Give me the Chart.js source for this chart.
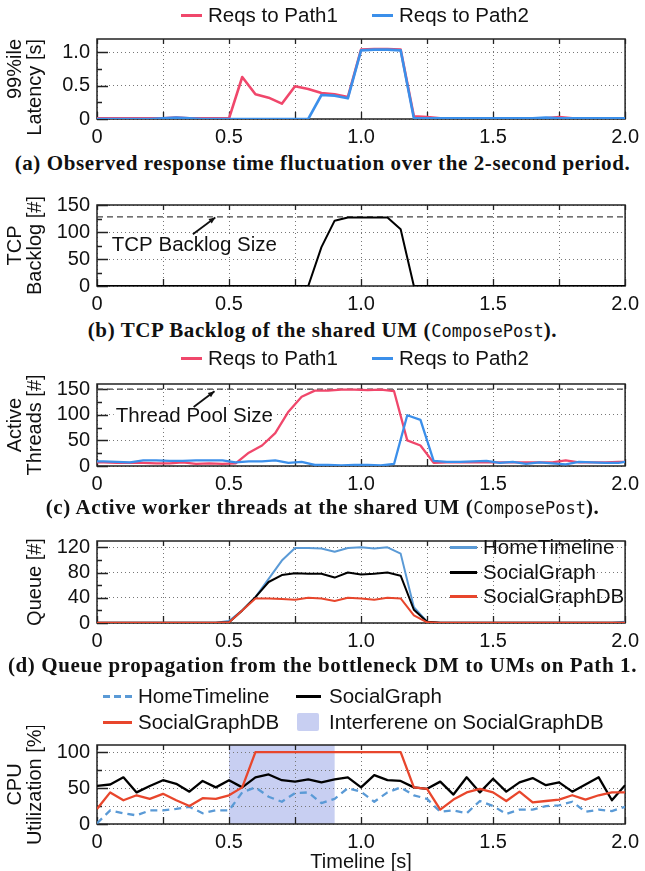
<!DOCTYPE html>
<html>
<head>
<meta charset="utf-8">
<script src="https://cdn.jsdelivr.net/npm/chart.js@4.4.1/dist/chart.umd.min.js"></script>
<style>
  html, body { margin: 0; padding: 0; background: #fff; }
  #page { position: relative; width: 645px; height: 871px; overflow: hidden; background: #fff;
          font-family: "Liberation Sans", Arial, sans-serif; color: #111; }
  canvas { position: absolute; left: 0; }
  .cap { position: absolute; left: 0; width: 645px; text-align: center; white-space: nowrap;
         font-family: "Liberation Serif", serif; font-weight: bold; font-size: 21px; line-height: 24px;
         letter-spacing: 0.6px; }
  .cap code { font-family: "DejaVu Sans Mono", monospace; font-weight: normal; font-size: 17px; letter-spacing: 0; }
  .swatch { position: absolute; }
  .legtext { position: absolute; font-size: 20.5px; line-height: 22px; white-space: nowrap; }
</style>
</head>
<body>
<div id="page">
  <canvas id="chartA" width="645" height="129" style="top:20px"></canvas>
  <div class="cap" style="top:151px">(a) Observed response time fluctuation over the 2-second period.</div>

  <canvas id="chartB" width="645" height="130" style="top:186px"></canvas>
  <div class="cap" style="top:318px">(b) TCP Backlog of the shared UM (<code>ComposePost</code>).</div>

  <canvas id="chartC" width="645" height="131" style="top:365px"></canvas>
  <div class="cap" style="top:495px">(c) Active worker threads at the shared UM (<code>ComposePost</code>).</div>

  <canvas id="chartD" width="645" height="131" style="top:522px"></canvas>
  <div class="cap" style="top:653px">(d) Queue propagation from the bottleneck DM to UMs on Path 1.</div>

  <canvas id="chartE" width="645" height="145" style="top:726px"></canvas>
</div>
<script>
// time axis (s), 50 ms samples
const times = [0, 0.05, 0.1, 0.15, 0.2, 0.25, 0.3, 0.35, 0.4, 0.45, 0.5, 0.55, 0.6, 0.65, 0.7, 0.75, 0.8, 0.85, 0.9, 0.95,
  1.0, 1.05, 1.1, 1.15, 1.2, 1.25, 1.3, 1.35, 1.4, 1.45, 1.5, 1.55, 1.6, 1.65, 1.7, 1.75, 1.8, 1.85, 1.9, 1.95, 2.0]

// (a) 99th percentile latency [s]
const latencyPath1 = [0.01, 0.01, 0.01, 0.01, 0.01, 0.01, 0.02, 0.01, 0.01, 0.01, 0.01, 0.63, 0.37, 0.32, 0.23, 0.49, 0.45, 0.39, 0.37, 0.33,
  1.04, 1.05, 1.05, 1.04, 0.04, 0.03, 0.01, 0.01, 0.01, 0.01, 0.01, 0.01, 0.01, 0.01, 0.01, 0.03, 0.01, 0.01, 0.01, 0.01, 0.01]
const latencyPath2 = [0, 0, 0, 0, 0, 0.01, 0.02, 0.01, 0, 0, 0, 0, 0, 0, 0, 0, 0, 0.36, 0.35, 0.31,
  1.03, 1.04, 1.04, 1.03, 0.01, 0.01, 0.01, 0.01, 0.01, 0.01, 0.01, 0.01, 0.01, 0.01, 0.02, 0.01, 0.01, 0.01, 0.01, 0.01, 0.01]

// (b) TCP backlog [#]
const backlog = [0, 0, 0, 0, 0, 0, 0, 0, 0, 0, 0, 0, 0, 0, 0, 0, 0, 72, 121, 127,
  127, 127, 127, 105, 0, 0, 0, 0, 0, 0, 0, 0, 0, 0, 0, 0, 0, 0, 0, 0, 0]
const BACKLOG_SIZE = 128

// (c) active threads [#], sampled mid-interval
const threadTimes = [0, 0.025, 0.075, 0.125, 0.175, 0.225, 0.275, 0.325, 0.375, 0.425, 0.475, 0.525, 0.575, 0.625, 0.675, 0.725,
  0.775, 0.825, 0.875, 0.925, 0.975, 1.025, 1.075, 1.125, 1.175, 1.225, 1.275, 1.325, 1.375, 1.425, 1.475, 1.525,
  1.575, 1.625, 1.675, 1.725, 1.775, 1.825, 1.875, 1.925, 1.975, 2.0]
const threadsPath1 = [7, 7, 6, 6, 6, 5, 5, 7, 4, 5, 4, 5, 26, 40, 64, 106,
  135, 147, 147, 149, 149, 148, 149, 146, 50, 40, 6, 7, 7, 7, 7, 7,
  7, 7, 7, 7, 11, 7, 7, 7, 8, 8]
const threadsPath2 = [9, 9, 8, 7, 11, 11, 10, 10, 11, 11, 11, 7, 9, 9, 11, 6,
  8, 2, 2, 1, 2, 2, 1, 4, 99, 90, 10, 8, 8, 9, 10, 6,
  8, 4, 7, 5, 3, 8, 7, 6, 6, 8]
const THREAD_POOL_SIZE = 150

// (d) queue length [#]
const queueHome = [0.5, 0.5, 0.5, 0.5, 0.5, 0.5, 0.5, 0.5, 0.5, 0.5, 3, 20, 41, 70, 99, 119, 119, 118, 113, 119,
  120, 118, 120, 110, 25, 2, 0.5, 0.5, 0.5, 0.5, 0.5, 0.5, 0.5, 0.5, 0.5, 0.5, 0.5, 0.5, 0.5, 0.5, 2]
const queueGraph = [0.5, 0.5, 0.5, 0.5, 0.5, 0.5, 0.5, 0.5, 0.5, 0.5, 1, 20, 41, 65, 76, 79, 78, 78, 72, 80,
  77, 78, 80, 75, 21, 2, 0.5, 0.5, 0.5, 0.5, 0.5, 0.5, 0.5, 0.5, 0.5, 0.5, 0.5, 0.5, 0.5, 0.5, 0.5]
const queueDB = [0.5, 0.5, 0.5, 0.5, 0.5, 0.5, 0.5, 0.5, 0.5, 0.5, 1, 20, 39, 39, 38, 37, 40, 39, 35, 40,
  39, 37, 40, 39, 12, 1, 0.5, 0.5, 0.5, 0.5, 0.5, 0.5, 0.5, 0.5, 0.5, 0.5, 0.5, 0.5, 0.5, 0.5, 0.5]

// (e) CPU utilization [%]
const cpuHome = [1, 19, 15, 12, 19, 19, 21, 24, 15, 19, 19, 44, 51, 38, 31, 43, 44, 29, 35, 50,
  45, 31, 44, 51, 40, 35, 17, 19, 15, 32, 25, 14, 20, 20, 25, 26, 31, 17, 20, 18, 24]
const cpuGraph = [53, 55, 65, 44, 53, 61, 56, 45, 60, 51, 61, 51, 65, 69, 61, 59, 62, 58, 62, 65,
  51, 68, 61, 60, 51, 49, 59, 41, 65, 44, 63, 45, 58, 64, 54, 58, 45, 55, 65, 33, 54]
const cpuDB = [21, 44, 33, 40, 35, 42, 33, 25, 36, 35, 40, 51, 100, 100, 100, 100, 100, 100, 100, 100,
  100, 100, 100, 100, 51, 49, 20, 34, 44, 49, 44, 32, 45, 30, 32, 34, 40, 34, 40, 44, 44]
const INTERFERENCE = [0.5, 0.9]

// ticks
const timeTicks = [0, 0.25, 0.5, 0.75, 1.0, 1.25, 1.5, 1.75, 2.0]
const timeTickLabels = ['0', '', '0.5', '', '1.0', '', '1.5', '', '2.0']
const latencyTicks = [0, 0.25, 0.5, 0.75, 1.0]
const latencyTickLabels = ['0', '', '0.5', '', '1.0']
const countTicks = [0, 25, 50, 75, 100, 125, 150]
const countTickLabels = ['0', '', '50', '', '100', '', '150']
const queueTicks = [0, 20, 40, 60, 80, 100, 120]
const queueTickLabels = ['0', '', '40', '', '80', '', '120']
const cpuTicks = [0, 25, 50, 75, 100]
const cpuTickLabels = ['0', '', '50', '', '100']

const RED = '#f0476b'
const BLUE = '#3b8fea'
const HT_BLUE = '#5a9ad6'
const DB_RED = '#e8462c'
const INK = '#111'
const GRID = '#777'
const FAMILY = '"Liberation Sans", Arial, sans-serif'
const tickFont = { family: FAMILY, size: 20 }

const pts = (xs, ys) => xs.map((x, i) => ({ x, y: ys[i] }))

function series(label, xs, ys, color, extra = {}) {
  return { label, data: pts(xs, ys), borderColor: color, backgroundColor: color, borderWidth: 2.3, ...extra }
}

function refLine(label, value) {
  const ends = [timeTicks[0], timeTicks[timeTicks.length - 1]]
  return { label, data: pts(ends, [value, value]), borderColor: '#444', borderWidth: 1.3, borderDash: [6, 4], order: 9 }
}

// box around the plot + gnuplot-style inward tick marks
const framePlugin = {
  id: 'frame',
  beforeDatasetsDraw(chart) {
    const { ctx, chartArea: a, scales: { x, y } } = chart
    ctx.save()
    ctx.strokeStyle = '#222'
    ctx.lineWidth = 1.3
    ctx.beginPath()
    x.ticks.forEach((t) => {
      const px = Math.round(x.getPixelForValue(t.value)) + 0.5
      ctx.moveTo(px, a.bottom)
      ctx.lineTo(px, a.bottom - 7)
      ctx.moveTo(px, a.top)
      ctx.lineTo(px, a.top + 5)
    })
    y.ticks.forEach((t) => {
      const py = Math.round(y.getPixelForValue(t.value)) + 0.5
      ctx.moveTo(a.left, py)
      ctx.lineTo(a.left + (t.label ? 11 : 5), py)
    })
    ctx.stroke()
    ctx.lineWidth = 1.5
    ctx.strokeRect(a.left, a.top, a.right - a.left, a.bottom - a.top)
    ctx.restore()
  },
}

// text label with an arrow, placed in data coordinates
const notePlugin = {
  id: 'note',
  beforeDatasetsDraw(chart, args, o) {
    if (!o || !o.text) return
    const { ctx, scales: { x, y } } = chart
    ctx.save()
    ctx.font = `20.5px ${FAMILY}`
    const tx = x.getPixelForValue(o.at[0])
    const ty = y.getPixelForValue(o.at[1])
    const w = ctx.measureText(o.text).width
    ctx.fillStyle = '#fff'
    ctx.fillRect(tx - 2, ty - 11, w + 4, 22)
    ctx.fillStyle = INK
    ctx.textBaseline = 'middle'
    ctx.fillText(o.text, tx, ty)
    const x0 = x.getPixelForValue(o.from[0])
    const y0 = y.getPixelForValue(o.from[1])
    const x1 = x.getPixelForValue(o.to[0])
    const y1 = y.getPixelForValue(o.to[1])
    ctx.strokeStyle = INK
    ctx.lineWidth = 1.8
    ctx.beginPath()
    ctx.moveTo(x0, y0)
    ctx.lineTo(x1, y1)
    ctx.stroke()
    const ang = Math.atan2(y1 - y0, x1 - x0)
    ctx.beginPath()
    ctx.moveTo(x1, y1)
    ctx.lineTo(x1 - 7 * Math.cos(ang - 0.4), y1 - 7 * Math.sin(ang - 0.4))
    ctx.lineTo(x1 - 7 * Math.cos(ang + 0.4), y1 - 7 * Math.sin(ang + 0.4))
    ctx.closePath()
    ctx.fill()
    ctx.restore()
  },
}

// shaded time window
const bandPlugin = {
  id: 'band',
  beforeDraw(chart, args, o) {
    if (!o || !o.range) return
    const { ctx, chartArea: a, scales: { x } } = chart
    const l = x.getPixelForValue(o.range[0])
    const r = x.getPixelForValue(o.range[1])
    ctx.save()
    ctx.fillStyle = o.color
    ctx.fillRect(l, a.top, r - l, a.bottom - a.top)
    ctx.restore()
  },
}

function buildChart(id, cfg) {
  return new Chart(document.getElementById(id), {
    type: 'line',
    data: { datasets: cfg.datasets },
    options: {
      responsive: false,
      animation: false,
      layout: { padding: { top: 8, right: 13, bottom: 0, left: 0 } },
      elements: { point: { radius: 0 }, line: { tension: 0, borderJoinStyle: 'round' } },
      plugins: {
        legend: { display: false },
        tooltip: { enabled: false },
        note: cfg.note || {},
        band: cfg.band || {},
      },
      scales: {
        x: {
          type: 'linear',
          min: timeTicks[0],
          max: timeTicks[timeTicks.length - 1],
          afterBuildTicks: (s) => { s.ticks = timeTicks.map((value) => ({ value })) },
          afterFit: (s) => { s.height = cfg.xHeight || 30 },
          ticks: { autoSkip: false, maxRotation: 0, padding: 6, color: INK, font: tickFont,
            callback: (v, i) => timeTickLabels[i] },
          grid: { drawTicks: false, lineWidth: 1, color: GRID },
          border: { display: false, dash: [1, 3] },
          title: cfg.xTitle
            ? { display: true, text: cfg.xTitle, color: INK, font: { ...tickFont, lineHeight: '18px' }, padding: 0 }
            : { display: false },
        },
        y: {
          type: 'linear',
          min: 0,
          max: cfg.yMax,
          afterBuildTicks: (s) => { s.ticks = cfg.yTicks.map((value) => ({ value })) },
          afterFit: (s) => { s.width = 97 },
          ticks: { autoSkip: false, padding: 7, color: INK, font: tickFont,
            callback: (v, i) => cfg.yLabels[i] },
          grid: { drawTicks: false, lineWidth: 1,
            color: (c) => (cfg.yMinorGrid || cfg.yLabels[c.index]) ? GRID : 'rgba(0,0,0,0)' },
          border: { display: false, dash: [1, 3] },
          title: { display: true, text: cfg.yTitle, align: cfg.yTitleAlign || 'center', color: INK,
            font: { ...tickFont, lineHeight: '20px' }, padding: { top: cfg.yTitlePad ?? 5, bottom: 0 } },
        },
      },
    },
    plugins: [bandPlugin, framePlugin, notePlugin],
  })
}

// legend drawn as page text next to line swatches
function legend(entries) {
  const page = document.getElementById('page')
  entries.forEach((e) => {
    const s = document.createElement('div')
    s.className = 'swatch'
    s.style.left = e.x + 'px'
    s.style.width = e.w + 'px'
    if (e.box) {
      s.style.top = (e.y - 9) + 'px'
      s.style.height = '18px'
      s.style.borderRadius = '2px'
      s.style.background = e.color
    } else {
      s.style.top = (e.y - 1.5) + 'px'
      s.style.height = '3px'
      s.style.background = e.dash
        ? `repeating-linear-gradient(90deg, ${e.color} 0 7px, transparent 7px 11px)`
        : e.color
    }
    page.appendChild(s)
    const t = document.createElement('div')
    t.className = 'legtext'
    t.style.left = e.tx + 'px'
    t.style.top = (e.y - 11) + 'px'
    t.textContent = e.label
    page.appendChild(t)
  })
}

// (a)
const latP1 = series('Reqs to Path1', times, latencyPath1, RED, { order: 2, borderWidth: 2.6 })
const latP2 = series('Reqs to Path2', times, latencyPath2, BLUE, { order: 1, borderWidth: 2.6 })
buildChart('chartA', {
  datasets: [latP1, latP2],
  yMax: 1.2, yTicks: latencyTicks, yLabels: latencyTickLabels,
  yTitle: ['99%ile', 'Latency [s]'], yTitleAlign: 'end',
})

// (b)
buildChart('chartB', {
  datasets: [series('TCP Backlog', times, backlog, '#000', { borderWidth: 2 }), refLine('TCP Backlog Size', BACKLOG_SIZE)],
  yMax: 150, yTicks: countTicks, yLabels: countTickLabels,
  yTitle: ['TCP', 'Backlog [#]'],
  note: { text: 'TCP Backlog Size', at: [0.056, 76], from: [0.363, 96], to: [0.448, 127] },
})

// (c)
const thP1 = series('Reqs to Path1', threadTimes, threadsPath1, RED, { order: 2 })
const thP2 = series('Reqs to Path2', threadTimes, threadsPath2, BLUE, { order: 1 })
buildChart('chartC', {
  datasets: [thP1, thP2, refLine('Thread Pool Size', THREAD_POOL_SIZE)],
  yMax: 160, yTicks: countTicks, yLabels: countTickLabels,
  yTitle: ['Active', 'Threads [#]'],
  note: { text: 'Thread Pool Size', at: [0.071, 96], from: [0.366, 115], to: [0.445, 146] },
})

// (d)
const qHome = series('HomeTimeline', times, queueHome, HT_BLUE, { order: 3, borderWidth: 2 })
const qGraph = series('SocialGraph', times, queueGraph, '#000', { order: 2, borderWidth: 2 })
const qDB = series('SocialGraphDB', times, queueDB, DB_RED, { order: 1, borderWidth: 2 })
buildChart('chartD', {
  datasets: [qHome, qGraph, qDB],
  yMax: 130, yTicks: queueTicks, yLabels: queueTickLabels,
  yTitle: 'Queue [#]', yTitlePad: 25,
})

// (e)
const cHome = series('HomeTimeline', times, cpuHome, HT_BLUE, { order: 3, borderDash: [7, 5] })
const cGraph = series('SocialGraph', times, cpuGraph, '#000', { order: 2 })
const cDB = series('SocialGraphDB', times, cpuDB, DB_RED, { order: 1 })
const BAND_COLOR = '#c8cff2'
buildChart('chartE', {
  datasets: [cHome, cGraph, cDB],
  yMax: 110, yTicks: cpuTicks, yLabels: cpuTickLabels, yMinorGrid: true,
  yTitle: ['CPU', 'Utilization [%]'],
  xTitle: 'Timeline [s]', xHeight: 47,
  band: { range: INTERFERENCE, color: BAND_COLOR },
})

legend([
  { x: 181, w: 21, tx: 208, y: 15, label: latP1.label, color: RED },
  { x: 372, w: 21, tx: 399, y: 15, label: latP2.label, color: BLUE },
  { x: 181, w: 21, tx: 208, y: 358, label: thP1.label, color: RED },
  { x: 372, w: 21, tx: 399, y: 358, label: thP2.label, color: BLUE },
  { x: 450, w: 27, tx: 483, y: 547, label: qHome.label, color: HT_BLUE },
  { x: 450, w: 27, tx: 483, y: 572, label: qGraph.label, color: '#000' },
  { x: 450, w: 27, tx: 483, y: 596, label: qDB.label, color: DB_RED },
  { x: 103, w: 29, tx: 138, y: 696, label: cHome.label, color: HT_BLUE, dash: true },
  { x: 296, w: 25, tx: 329, y: 696, label: cGraph.label, color: '#000' },
  { x: 103, w: 29, tx: 138, y: 722, label: cDB.label, color: DB_RED },
  { x: 297, w: 22, tx: 329, y: 722, label: 'Interferene on SocialGraphDB', color: BAND_COLOR, box: true },
])
</script>
</body>
</html>
